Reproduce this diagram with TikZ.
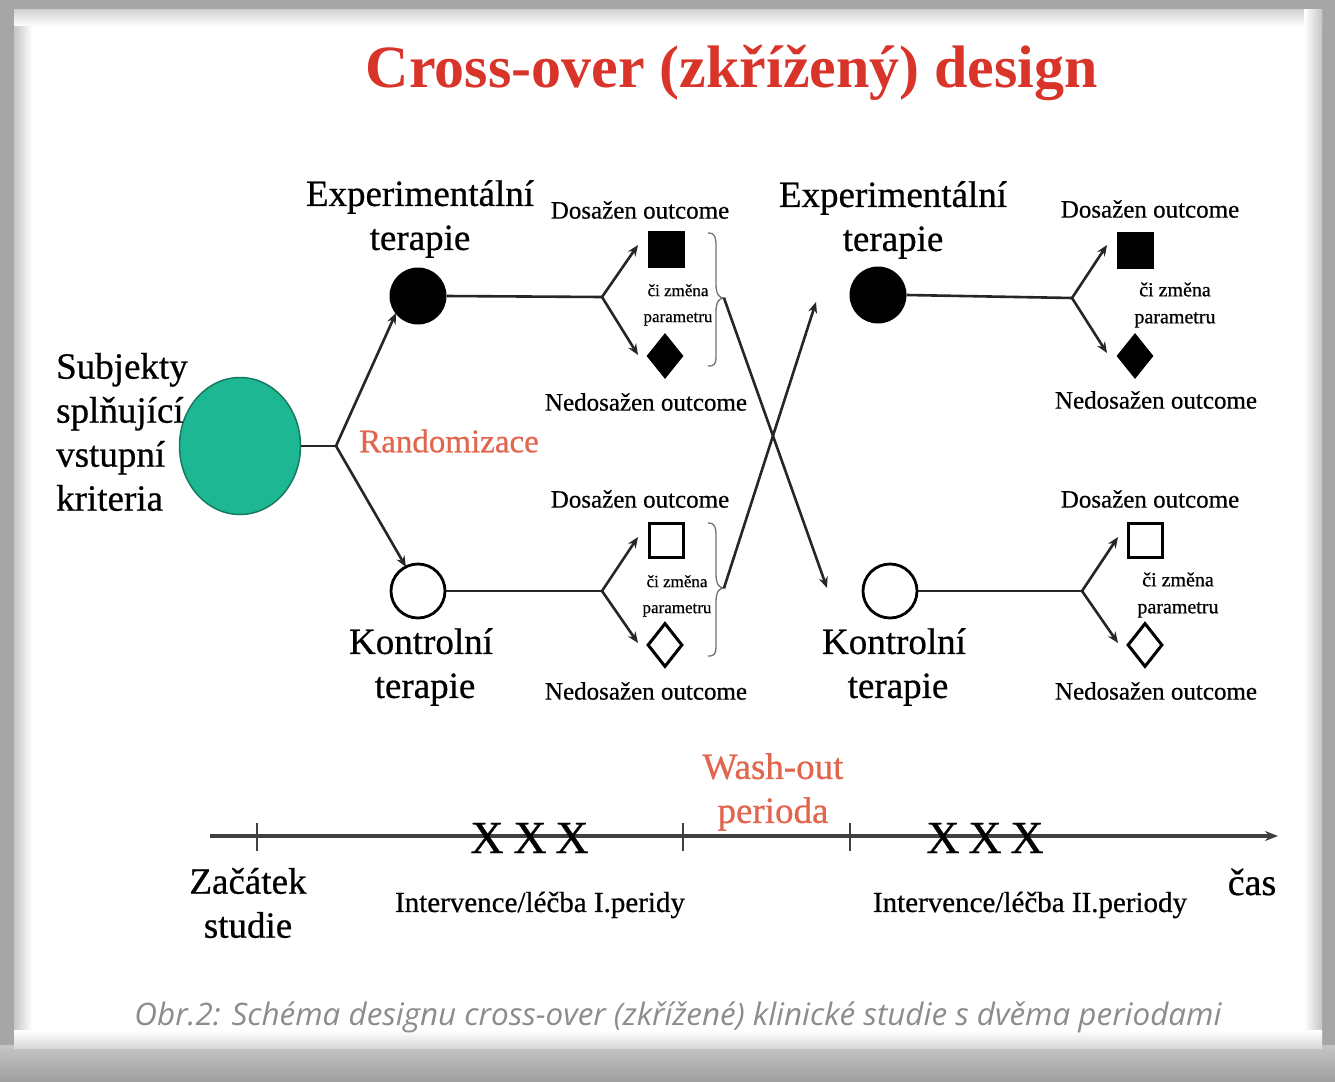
\documentclass[tikz,border=0pt]{standalone}
\usepackage{fontspec}
\setmainfont{Liberation Serif}[FakeBold=0.6]
\newfontfamily\titlefont{Liberation Serif Bold}
\newfontfamily\capfont{Open Sans}
\usepackage{graphicx}
\usetikzlibrary{arrows.meta,shapes.geometric}
\definecolor{titlered}{HTML}{D8342A}
\definecolor{softred}{HTML}{E2654E}
\definecolor{greenfill}{HTML}{1DB893}
\definecolor{greenedge}{HTML}{167A5E}
\definecolor{capgray}{HTML}{8C8C8C}
\begin{document}
\begin{tikzpicture}[x=1pt,y=-1pt,
  big/.style={font=\fontsize{37}{44}\selectfont, inner sep=0pt, align=center},
  mid/.style={font=\fontsize{25}{30}\selectfont, inner sep=0pt},
  tiny/.style={font=\fontsize{17}{26}\selectfont, inner sep=0pt, align=center},
  tinyr/.style={font=\fontsize{20}{27}\selectfont, inner sep=0pt, align=center},
  conn/.style={line width=2.6pt, draw=black!85},
  arr/.style={conn, -{Stealth[length=11pt,width=9pt]}},
  brace/.style={line width=1.3pt, draw=black!55},
  blackdot/.style={circle, fill=black, minimum size=57pt, inner sep=0pt},
  whitedot/.style={circle, draw=black, line width=2.8pt, fill=white, minimum size=54pt, inner sep=0pt},
  sqb/.style={rectangle, fill=black, minimum size=37pt, inner sep=0pt},
  sqw/.style={rectangle, draw=black, line width=3pt, minimum size=34pt, inner sep=0pt},
  dmb/.style={diamond, fill=black, minimum width=37pt, minimum height=46pt, inner sep=0pt},
  dmw/.style={diamond, draw=black, line width=3pt, minimum width=35pt, minimum height=44pt, inner sep=0pt},
  xmark/.style={font=\fontsize{46}{46}\selectfont, inner sep=0pt}
]
\useasboundingbox (0,0) rectangle (1335,1081);
% frame
\fill[gray!70] (0,0) rectangle (1335,1081);
\shade[top color=gray!45, bottom color=gray!75] (0,1045) rectangle (1335,1081);
\fill[white] (14,10) rectangle (1322,1048);
\shade[left color=gray!45, right color=white] (14,10) rectangle (32,1048);
\shade[top color=gray!35, bottom color=white] (14,10) rectangle (1322,26);
\shade[left color=white, right color=gray!45] (1304,10) rectangle (1322,1048);
\shade[top color=white, bottom color=gray!30] (14,1030) rectangle (1322,1048);

% title
\node[font=\titlefont\fontsize{60}{60}\selectfont, text=titlered, inner sep=0pt] (title) at (732,73) {Cross-over (zkřížený) design};

% subjects
\node[ellipse, fill=greenfill, draw=greenedge, line width=1.5pt, minimum width=121pt, minimum height=137pt, inner sep=0pt] (subj) at (240,446) {};
\node[big, align=left, anchor=west] (subjtxt) at (56,432) {Subjekty\\splňující\\vstupní\\kriteria};
\node[font=\fontsize{33}{33}\selectfont, text=softred, inner sep=0pt] (rand) at (449,441) {Randomizace};

% circles
\node[blackdot] (e1) at (418,296) {};
\node[whitedot] (k1) at (418,591) {};
\node[blackdot] (e2) at (878,295) {};
\node[whitedot] (k2) at (890,591) {};

\node[big] (e1t) at (420,219) {Experimentální\\terapie};
\node[big] (k1t) at (421,667) {Kontrolní\\\hspace*{8pt}terapie};
\node[big] (e2t) at (893,220) {Experimentální\\terapie};
\node[big] (k2t) at (894,667) {Kontrolní\\\hspace*{8pt}terapie};

% outcome shapes
\node[sqb] (s1) at (666,249) {};
\node[dmb] (d1) at (665,356) {};
\node[sqw] (s2) at (666,540) {};
\node[dmw] (d2) at (665,645) {};
\node[sqb] (s3) at (1135,250) {};
\node[dmb] (d3) at (1135,356) {};
\node[sqw] (s4) at (1145,540) {};
\node[dmw] (d4) at (1145,645) {};

% outcome labels
\node[mid] (o1a) at (640,210) {Dosažen outcome};
\node[mid] (o1b) at (646,402) {Nedosažen outcome};
\node[mid] (o2a) at (640,499) {Dosažen outcome};
\node[mid] (o2b) at (646,691) {Nedosažen outcome};
\node[mid] (o3a) at (1150,209) {Dosažen outcome};
\node[mid] (o3b) at (1156,400) {Nedosažen outcome};
\node[mid] (o4a) at (1150,499) {Dosažen outcome};
\node[mid] (o4b) at (1156,691) {Nedosažen outcome};

\node[tiny] (p1) at (678,305) {či změna\\parametru};
\node[tiny] (p2) at (677,596) {či změna\\parametru};
\node[tinyr] (p3) at (1175,305) {či změna\\parametru};
\node[tinyr] (p4) at (1178,595) {či změna\\parametru};

% coordinates
\coordinate (f0) at (336,446);
\coordinate (t0a) at (396,313);
\coordinate (t0b) at (406,567);
\coordinate (f1) at (602,297);
\coordinate (a1) at (638,245);
\coordinate (b1) at (638,355);
\coordinate (f2) at (602,591);
\coordinate (a2) at (638,537);
\coordinate (b2) at (638,643);
\coordinate (f3) at (1072,298);
\coordinate (a3) at (1107,245);
\coordinate (b3) at (1107,353);
\coordinate (f4) at (1082,591);
\coordinate (a4) at (1118,537);
\coordinate (b4) at (1118,643);
\coordinate (bt1) at (724,298);
\coordinate (bt2) at (724,588);
\coordinate (x1) at (827,588);
\coordinate (x2) at (816,302);

% connectors
\draw[conn] (subj.east) -- (f0);
\draw[arr] (f0) -- (t0a);
\draw[arr] (f0) -- (t0b);
\draw[conn] (e1.east) -- (f1);
\draw[arr] (f1) -- (a1);
\draw[arr] (f1) -- (b1);
\draw[conn] (k1.east) -- (f2);
\draw[arr] (f2) -- (a2);
\draw[arr] (f2) -- (b2);
\draw[conn] (e2.east) -- (f3);
\draw[arr] (f3) -- (a3);
\draw[arr] (f3) -- (b3);
\draw[conn] (k2.east) -- (f4);
\draw[arr] (f4) -- (a4);
\draw[arr] (f4) -- (b4);

% braces
\draw[brace] (708,233) .. controls (715,233) and (716,237) .. (716,246) -- (716,284) .. controls (716,294) and (719,298) .. (bt1) .. controls (719,298) and (716,302) .. (716,312) -- (716,355) .. controls (716,364) and (715,366) .. (708,366);
\draw[brace] (708,523) .. controls (715,523) and (716,527) .. (716,536) -- (716,574) .. controls (716,584) and (719,588) .. (bt2) .. controls (719,588) and (716,592) .. (716,602) -- (716,645) .. controls (716,654) and (715,656) .. (708,656);

% crossing
\draw[arr] (bt1) -- (x1);
\draw[arr] (bt2) -- (x2);

% timeline
\coordinate (tl0) at (210,836);
\coordinate (tl1) at (1278,836);
\draw[line width=3.2pt, draw=black!75, -{Stealth[length=13pt,width=10pt]}] (tl0) -- (tl1);
\foreach \xx/\nm in {257/tk1, 683/tk2, 850/tk3} {
  \coordinate (\nm a) at (\xx,823);
  \coordinate (\nm b) at (\xx,851);
  \draw[line width=1.6pt, draw=black!75] (\nm a) -- (\nm b);
}
\node[xmark] (xa1) at (487,838) {X};
\node[xmark] (xa2) at (530,838) {X};
\node[xmark] (xa3) at (572,838) {X};
\node[xmark] (xb1) at (943,838) {X};
\node[xmark] (xb2) at (985,838) {X};
\node[xmark] (xb3) at (1027,838) {X};

\node[big, text=softred] (wash) at (773,792) {Wash-out\\perioda};
\node[big] (start) at (248,903) {Začátek\\studie};
\node[font=\fontsize{29}{29}\selectfont, inner sep=0pt] (int1) at (540,905) {Intervence/léčba I.peridy};
\node[font=\fontsize{29}{29}\selectfont, inner sep=0pt] (int2) at (1030,905) {Intervence/léčba II.periody};
\node[font=\fontsize{38}{38}\selectfont, inner sep=0pt] (cas) at (1252,882) {čas};

% caption
\node[inner sep=0pt, text=capgray] (cap) at (678,1017) {\resizebox{1087pt}{\height}{\capfont\itshape\fontsize{31}{31}\selectfont Obr.2: Schéma designu cross-over (zkřížené) klinické studie s dvěma periodami}};
\end{tikzpicture}
\end{document}
